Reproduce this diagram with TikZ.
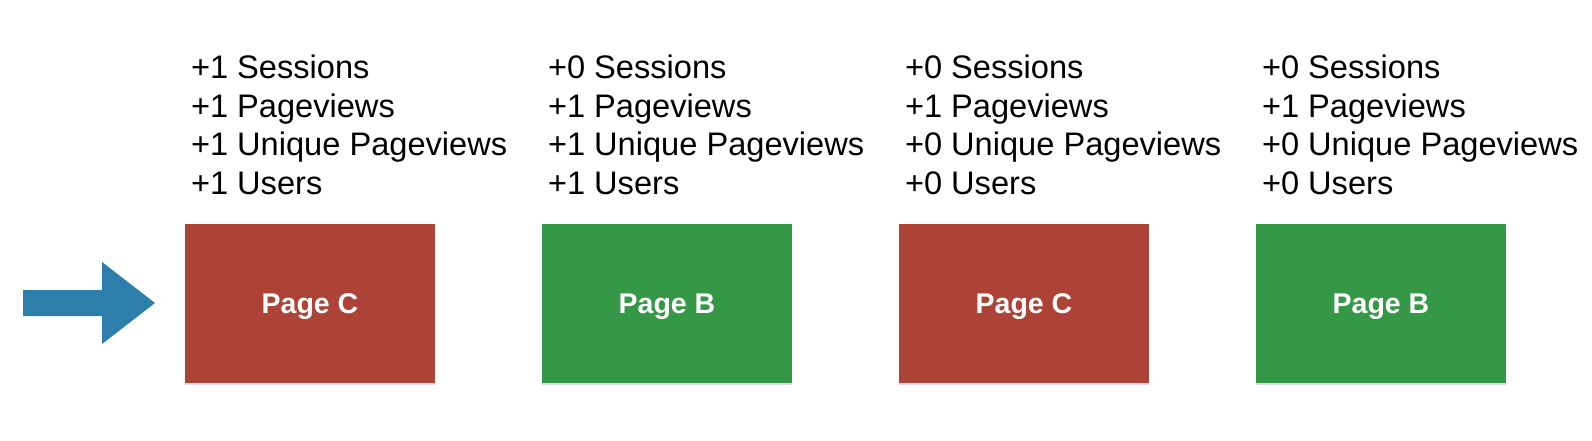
\documentclass[tikz,border=0pt]{standalone}
\usepackage{fontspec}
\setmainfont{Liberation Sans}
\usetikzlibrary{shadows}
\definecolor{pagered}{RGB}{172,67,54}
\definecolor{pagegreen}{RGB}{52,152,70}
\definecolor{arrowblue}{RGB}{46,126,172}
\begin{document}
\begin{tikzpicture}[x=1pt, y=1pt,
    pagebox/.style={minimum width=250pt, minimum height=159pt, inner sep=0pt, text=white,
        text depth=0pt, font=\fontsize{28.5}{34}\selectfont\bfseries,
        drop shadow={shadow xshift=0pt, shadow yshift=-1.5pt, opacity=0.25}},
    stats/.style={anchor=south west, align=left, inner sep=0pt,
        font=\fontsize{32.6}{38.6}\selectfont}]
    \useasboundingbox (0,0) rectangle (1592,440);

    \foreach \i/\x/\name/\col/\s/\p/\u/\n in {1/310/C/pagered/1/1/1/1, 2/667/B/pagegreen/0/1/1/1,
            3/1024/C/pagered/0/1/0/0, 4/1381/B/pagegreen/0/1/0/0} {
        \node[pagebox, fill=\col] (page\i) at (\x,136.5) {Page \name};
        \node[stats] (count\i) at ([shift={(6,29)}]page\i.north west)
            {+\s\ Sessions\\+\p\ Pageviews\\+\u\ Unique Pageviews\\+\n\ Users};
    }

    \fill[arrowblue] (23,150) -- (102,150) -- (102,178) -- (155,137)
        -- (102,96) -- (102,124) -- (23,124) -- cycle;
\end{tikzpicture}
\end{document}
